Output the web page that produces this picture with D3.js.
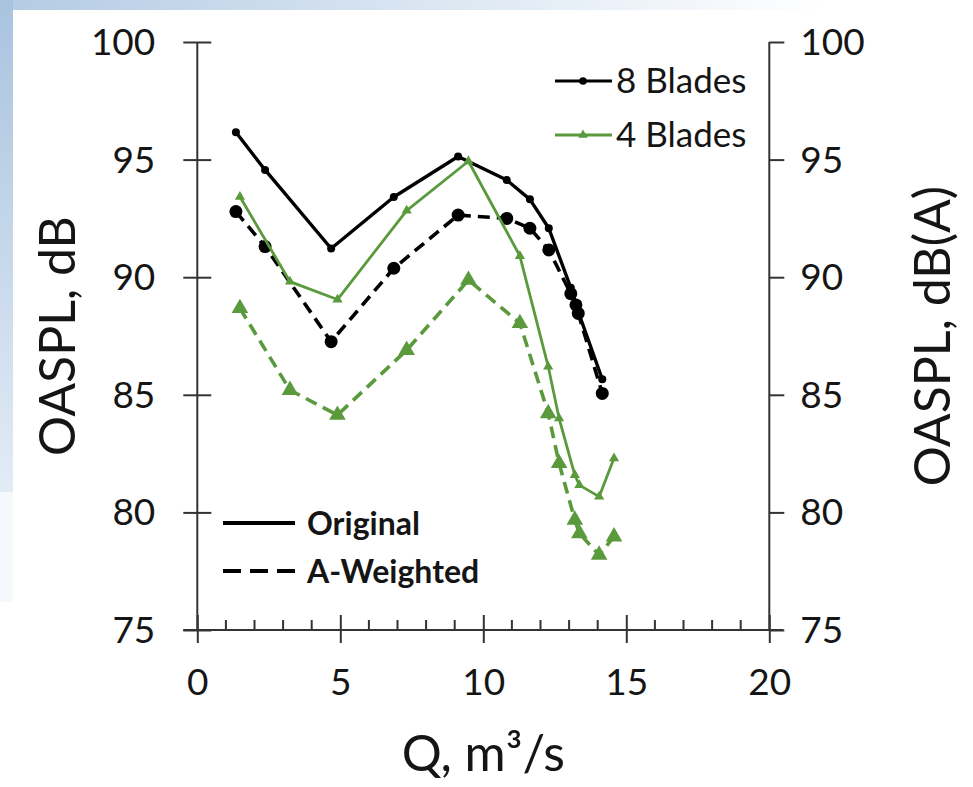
<!DOCTYPE html>
<html><head><meta charset="utf-8">
<script src="https://cdn.jsdelivr.net/npm/d3@7/dist/d3.min.js"></script>
<style>
html,body{margin:0;padding:0;background:#fff;}
svg{display:block;}
text{font-family:Lato,"Open Sans",sans-serif;fill:#151515;}
</style></head>
<body>
<svg id="chart" width="973" height="787"></svg>
<script>
// ---- data ----
const q8 = [1.35, 2.37, 4.68, 6.87, 9.12, 10.82, 11.63, 12.29, 13.06, 13.24, 13.32, 14.16];
const blades8Original = [96.16, 94.56, 91.22, 93.41, 95.13, 94.13, 93.31, 92.08, 89.55, 88.89, 88.53, 85.66];
const blades8AWeighted = [92.79, 91.30, 87.26, 90.38, 92.64, 92.50, 92.08, 91.16, 89.30, 88.82, 88.46, 85.06];
const q4 = [1.49, 3.24, 4.90, 7.32, 9.48, 11.28, 12.27, 12.65, 13.20, 13.36, 14.05, 14.57];
const blades4Original = [93.42, 89.81, 89.05, 92.83, 94.93, 90.90, 86.20, 84.00, 81.59, 81.16, 80.67, 82.30];
const blades4AWeighted = [88.68, 85.20, 84.14, 86.90, 89.88, 88.04, 84.21, 82.09, 79.68, 79.11, 78.19, 78.97];
const xTicks = [0, 5, 10, 15, 20];
const xMinorTicks = [1,2,3,4,6,7,8,9,11,12,13,14,16,17,18,19];
const yTicks = [75, 80, 85, 90, 95, 100];
const seriesLegend = ["8 Blades", "4 Blades"];
const styleLegend = ["Original", "A-Weighted"];
const xTitle = "Q, m³/s";
const yTitleLeft = "OASPL, dB";
const yTitleRight = "OASPL, dB(A)";

const GREEN = "#5a9a3d";
const svg = d3.select("#chart");

// background
const defs = svg.append("defs");
const g1 = defs.append("linearGradient").attr("id","lg1").attr("x1",0).attr("y1",0).attr("x2",0).attr("y2",1);
g1.append("stop").attr("offset","0%").attr("stop-color","#a9c3df");
g1.append("stop").attr("offset","100%").attr("stop-color","#e3ebf6");
const g2 = defs.append("linearGradient").attr("id","lg2").attr("x1",0).attr("y1",0).attr("x2",1).attr("y2",0);
g2.append("stop").attr("offset","0%").attr("stop-color","#b3cbe4");
g2.append("stop").attr("offset","85%").attr("stop-color","#ffffff");
svg.append("rect").attr("x",0).attr("y",0).attr("width",973).attr("height",787).attr("fill","#fff");
svg.append("rect").attr("x",0).attr("y",0).attr("width",973).attr("height",10).attr("fill","url(#lg2)");
svg.append("rect").attr("x",0).attr("y",0).attr("width",13).attr("height",492).attr("fill","url(#lg1)");
svg.append("rect").attr("x",0).attr("y",492).attr("width",13).attr("height",110).attr("fill","#f5f8fc");

const x = d3.scaleLinear().domain([0,20]).range([197.3,769.3]);
const y = d3.scaleLinear().domain([75,100]).range([630,42]);

const axisColor = "#333";
// left axis
const la = svg.append("g").attr("transform",`translate(${x(0)},0)`)
  .call(d3.axisLeft(y).tickValues(yTicks).tickSize(14).tickPadding(28).tickFormat(d3.format("d")));
la.select(".domain").remove();
la.selectAll(".tick line").attr("x1",-14).attr("x2",14).attr("stroke",axisColor).attr("stroke-width",2);
la.selectAll(".tick text").style("font-size","37px").attr("fill","#151515").attr("dy","0.34em");
svg.append("line").attr("x1",x(0)).attr("x2",x(0)).attr("y1",y(100)).attr("y2",y(75)).attr("stroke",axisColor).attr("stroke-width",2);

// right axis
const ra = svg.append("g").attr("transform",`translate(${x(20)},0)`)
  .call(d3.axisRight(y).tickValues(yTicks).tickSize(15).tickPadding(16).tickFormat(d3.format("d")));
ra.select(".domain").remove();
ra.selectAll(".tick line").attr("stroke",axisColor).attr("stroke-width",2);
ra.selectAll(".tick text").style("font-size","37px").attr("fill","#151515").attr("dy","0.34em");
svg.append("line").attr("x1",x(20)).attr("x2",x(20)).attr("y1",y(100)).attr("y2",y(75)).attr("stroke",axisColor).attr("stroke-width",2);

// bottom axis
const ba = svg.append("g").attr("transform",`translate(0,${y(75)})`)
  .call(d3.axisBottom(x).tickValues(xTicks).tickSize(13).tickPadding(26).tickFormat(d3.format("d")));
ba.select(".domain").remove();
ba.selectAll(".tick line").attr("y1",-15).attr("y2",13).attr("stroke",axisColor).attr("stroke-width",2);
ba.selectAll(".tick text").style("font-size","37px").attr("fill","#151515");
svg.append("g").selectAll("line").data(xMinorTicks).join("line")
  .attr("x1",d=>x(d)).attr("x2",d=>x(d)).attr("y1",y(75)-10).attr("y2",y(75))
  .attr("stroke",axisColor).attr("stroke-width",2);
svg.append("line").attr("x1",x(0)-14).attr("x2",x(20)+14).attr("y1",y(75)).attr("y2",y(75)).attr("stroke",axisColor).attr("stroke-width",2);

// titles
svg.append("text").attr("x",x(10)).attr("y",771).attr("text-anchor","middle").style("font-size","50px").text(xTitle);
svg.append("text").attr("transform",`translate(75,${y(87.5)}) rotate(-90)`).attr("text-anchor","middle").style("font-size","50px").text(yTitleLeft);
svg.append("text").attr("transform",`translate(950,${y(87.5)}) rotate(-90)`).attr("text-anchor","middle").style("font-size","50px").text(yTitleRight);

// series
const line = d3.line().x(d=>x(d[0])).y(d=>y(d[1]));
const zip = (a,b)=>a.map((v,i)=>[v,b[i]]);
const series = [
  {pts:zip(q8,blades8Original), color:"#000", w:3.4, dash:null, marker:"circle", size:4},
  {pts:zip(q8,blades8AWeighted), color:"#000", w:3.6, dash:"12,7", marker:"circle", size:6.5},
  {pts:zip(q4,blades4Original), color:GREEN, w:2.8, dash:null, marker:"tri", size:45},
  {pts:zip(q4,blades4AWeighted), color:GREEN, w:3.6, dash:"12,7", marker:"tri", size:120},
];
const tri = d3.symbol().type(d3.symbolTriangle);
series.forEach(s=>{
  svg.append("path").attr("d",line(s.pts)).attr("fill","none").attr("stroke",s.color)
    .attr("stroke-width",s.w).attr("stroke-dasharray",s.dash).attr("stroke-linejoin","round");
  const g = svg.append("g");
  if(s.marker==="circle"){
    g.selectAll("circle").data(s.pts).join("circle").attr("cx",d=>x(d[0])).attr("cy",d=>y(d[1])).attr("r",s.size).attr("fill",s.color);
  } else {
    g.selectAll("path").data(s.pts).join("path").attr("d",tri.size(s.size)())
      .attr("transform",d=>`translate(${x(d[0])},${y(d[1])})`).attr("fill",s.color);
  }
});

// legend top-right
const lg = svg.append("g");
lg.append("line").attr("x1",555).attr("x2",612).attr("y1",81).attr("y2",81).attr("stroke","#000").attr("stroke-width",3);
lg.append("circle").attr("cx",583).attr("cy",81).attr("r",3.8).attr("fill","#000");
lg.append("text").attr("x",616).attr("y",93).style("font-size","35px").text(seriesLegend[0]);
lg.append("line").attr("x1",555).attr("x2",612).attr("y1",135).attr("y2",135).attr("stroke",GREEN).attr("stroke-width",3);
lg.append("path").attr("d",tri.size(40)()).attr("transform","translate(583,135)").attr("fill",GREEN);
lg.append("text").attr("x",616).attr("y",147).style("font-size","35px").text(seriesLegend[1]);

// legend bottom-left
const lb = svg.append("g");
lb.append("line").attr("x1",223).attr("x2",295).attr("y1",523).attr("y2",523).attr("stroke","#000").attr("stroke-width",4);
lb.append("text").attr("x",307).attr("y",535).style("font-size","32px").style("font-weight","bold").text(styleLegend[0]);
lb.append("line").attr("x1",223).attr("x2",295).attr("y1",571).attr("y2",571).attr("stroke","#000").attr("stroke-width",4).attr("stroke-dasharray","18,9");
lb.append("text").attr("x",307).attr("y",583).style("font-size","32px").style("font-weight","bold").text(styleLegend[1]);
</script>
</body></html>
